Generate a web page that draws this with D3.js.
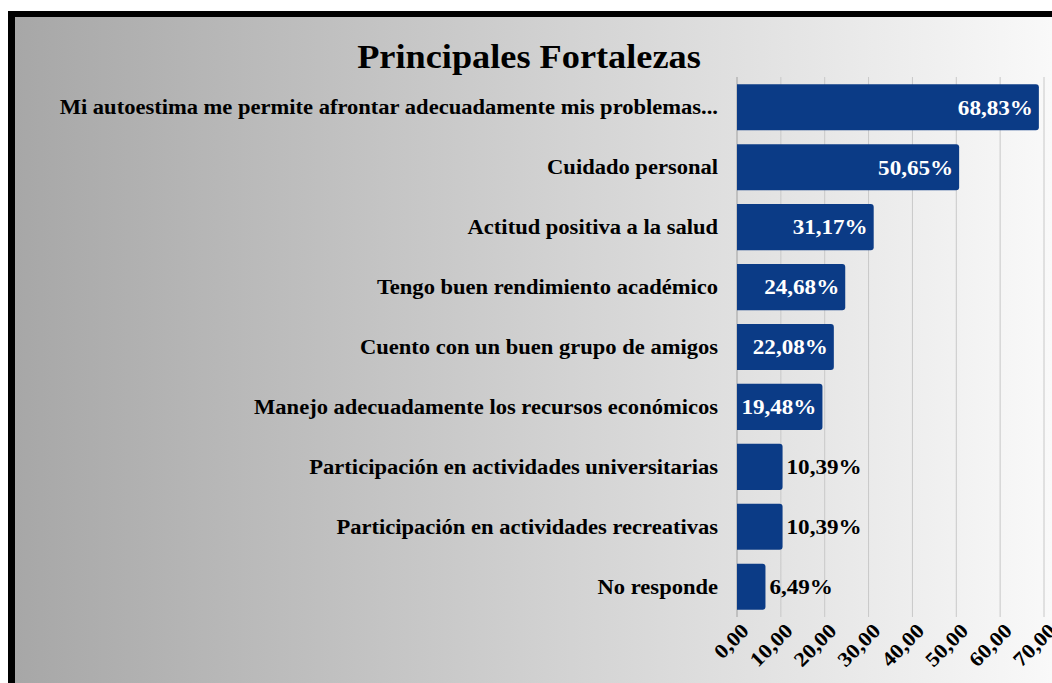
<!DOCTYPE html>
<html>
<head>
<meta charset="utf-8">
<script src="https://cdn.jsdelivr.net/npm/d3@7"></script>
<style>
  body { margin: 0; background: #fff; }
</style>
</head>
<body>
<div id="chart"></div>
<script>
"use strict";
// data
var categories = [
  "Mi autoestima me permite afrontar adecuadamente mis problemas...",
  "Cuidado personal",
  "Actitud positiva a la salud",
  "Tengo buen rendimiento académico",
  "Cuento con un buen grupo de amigos",
  "Manejo adecuadamente los recursos económicos",
  "Participación en actividades universitarias",
  "Participación en actividades recreativas",
  "No responde"
];
var values = [68.83, 50.65, 31.17, 24.68, 22.08, 19.48, 10.39, 10.39, 6.49];
var tickValues = [0, 10, 20, 30, 40, 50, 60, 70];
var title = "Principales Fortalezas";

var W = 1052, H = 683;
var font = "'Liberation Serif', 'Times New Roman', serif";
var stretch = 1.1; // the original text is a little wider than normal
var comma = function (v) { return d3.format(".2f")(v).replace(".", ","); };

var svg = d3.select("#chart").append("svg")
  .attr("width", W).attr("height", H);

var defs = svg.append("defs");
var grad = defs.append("linearGradient").attr("id", "bg")
  .attr("x1", "0%").attr("x2", "100%").attr("y1", "0%").attr("y2", "0%");
grad.append("stop").attr("offset", "0%").attr("stop-color", "#a7a7a7");
grad.append("stop").attr("offset", "100%").attr("stop-color", "#f9f9f9");

// frame: black band on top and left, gradient panel inside
svg.append("rect").attr("x", 8).attr("y", 11).attr("width", W - 8).attr("height", H - 11)
  .attr("fill", "#000");
svg.append("rect").attr("x", 15).attr("y", 17).attr("width", W - 15).attr("height", H - 17)
  .attr("fill", "url(#bg)");

var x = d3.scaleLinear().domain([0, 70]).range([737, 1044]);
var y = d3.scaleBand().domain(categories).range([77, 617]).paddingInner(0.23).paddingOuter(0.12);

// gridlines
svg.append("g").selectAll("line").data(tickValues).enter().append("line")
  .attr("x1", function (d) { return x(d); }).attr("x2", function (d) { return x(d); })
  .attr("y1", 77).attr("y2", 617)
  .attr("stroke", function (d) { return d === 0 ? "#a0a0a0" : "#c8c8c8"; })
  .attr("stroke-width", 1);

// title
svg.append("text")
  .attr("transform", "translate(529,68) scale(" + stretch + ",1)")
  .attr("text-anchor", "middle")
  .style("font-family", font).style("font-weight", "bold").style("font-size", "33px")
  .style("fill", "#000").text(title);

// category labels
svg.append("g").selectAll("text").data(categories).enter().append("text")
  .attr("transform", function (d) {
    return "translate(718," + (y(d) + y.bandwidth() / 2) + ") scale(" + stretch + ",1)";
  })
  .attr("dy", "0.35em")
  .attr("text-anchor", "end")
  .style("font-family", font).style("font-weight", "bold").style("font-size", "20.5px")
  .style("fill", "#000")
  .text(function (d) { return d; });

// bars
var rows = categories.map(function (c, i) { return { cat: c, val: values[i] }; });
svg.append("g").selectAll("path").data(rows).enter().append("path")
  .attr("d", function (d) {
    var x0 = x(0), x1 = x(d.val), y0 = y(d.cat), h = y.bandwidth(), r = 3;
    return "M" + x0 + "," + y0 + "H" + (x1 - r) + "Q" + x1 + "," + y0 + " " + x1 + "," + (y0 + r) +
      "V" + (y0 + h - r) + "Q" + x1 + "," + (y0 + h) + " " + (x1 - r) + "," + (y0 + h) + "H" + x0 + "Z";
  })
  .attr("fill", "#0b3b86");

// value labels: inside the bar when there is room
svg.append("g").selectAll("text").data(rows).enter().append("text")
  .attr("dy", "0.35em")
  .style("font-family", font).style("font-weight", "bold").style("font-size", "21px")
  .text(function (d) { return comma(d.val) + "%"; })
  .each(function (d) {
    var t = d3.select(this);
    var inside = d.val > 15;
    var px = inside ? x(d.val) - 6 : x(d.val) + 4;
    t.attr("transform", "translate(" + px + "," + (y(d.cat) + y.bandwidth() / 2) + ") scale(" + stretch + ",1)")
      .attr("text-anchor", inside ? "end" : "start")
      .style("fill", inside ? "#fff" : "#000");
  });

// rotated tick labels
svg.append("g").selectAll("text").data(tickValues).enter().append("text")
  .attr("transform", function (d) { return "translate(" + (x(d) + 8) + ",627) rotate(-45) scale(" + stretch + ",1)"; })
  .attr("text-anchor", "end")
  .attr("dy", "0.35em")
  .style("font-family", font).style("font-weight", "bold").style("font-size", "20.5px")
  .style("fill", "#000")
  .text(function (d) { return comma(d); });
</script>
</body>
</html>
